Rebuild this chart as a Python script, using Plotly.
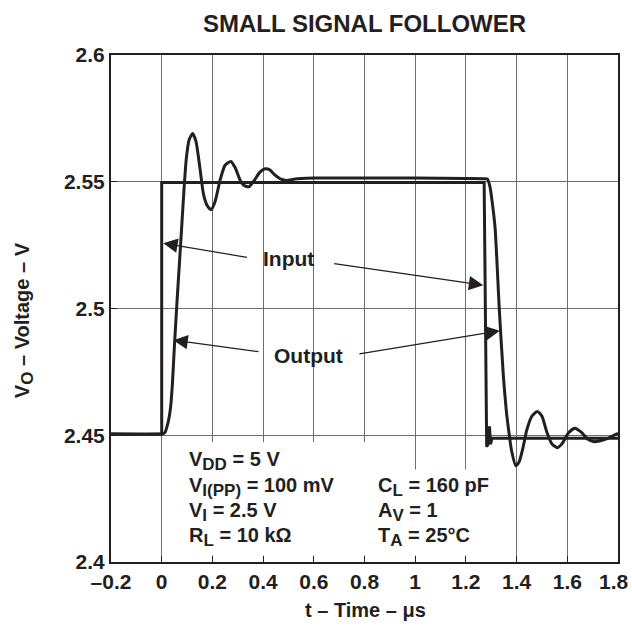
import plotly.graph_objects as go

# ---------------- data ----------------
x_tick_vals = [-0.2, 0, 0.2, 0.4, 0.6, 0.8, 1.0, 1.2, 1.4, 1.6, 1.8]
x_tick_text = ["–0.2", "0", "0.2", "0.4", "0.6", "0.8", "1", "1.2", "1.4", "1.6", "1.8"]
y_tick_vals = [2.4, 2.45, 2.5, 2.55, 2.6]
y_tick_text = ["2.4", "2.45", "2.5", "2.55", "2.6"]

t_input = [-0.2, 0.0, 0.0, 1.272, 1.282, 1.288, 1.293, 1.297, 1.303, 1.8]
v_input = [2.4505, 2.4505, 2.5497, 2.5497, 2.4455, 2.4465, 2.4535, 2.4465, 2.4488, 2.4488]

t_output = [-0.2, 0.0, 0.012, 0.025, 0.035, 0.042, 0.05, 0.06, 0.07, 0.08, 0.088, 0.097,
            0.108, 0.122, 0.135, 0.15, 0.165, 0.18, 0.195, 0.21, 0.23, 0.25, 0.273,
            0.29, 0.31, 0.325, 0.344, 0.365, 0.385, 0.405, 0.425, 0.445, 0.47, 0.493,
            0.52, 0.55, 0.6, 0.8, 1.0, 1.2, 1.275, 1.285, 1.295, 1.305, 1.315, 1.332,
            1.348, 1.36, 1.367, 1.38, 1.397, 1.41, 1.425, 1.44, 1.46, 1.482, 1.5, 1.52,
            1.54, 1.561, 1.58, 1.605, 1.63, 1.655, 1.68, 1.703, 1.73, 1.76, 1.78, 1.8]
v_output = [2.4505, 2.4505, 2.451, 2.455, 2.461, 2.47, 2.485, 2.502, 2.518, 2.534, 2.547, 2.559,
            2.5665, 2.569, 2.566, 2.556, 2.545, 2.5405, 2.539, 2.542, 2.5505, 2.5565, 2.558,
            2.5555, 2.5505, 2.5485, 2.548, 2.5505, 2.5535, 2.555, 2.5548, 2.5528, 2.551, 2.5505,
            2.551, 2.5513, 2.5515, 2.5515, 2.5515, 2.5513, 2.5512, 2.551, 2.548, 2.541, 2.532, 2.4993,
            2.473, 2.459, 2.4533, 2.444, 2.438, 2.4395, 2.445, 2.452, 2.4575, 2.4594, 2.4575, 2.451,
            2.4465, 2.4451, 2.4468, 2.451, 2.4528, 2.4512, 2.4485, 2.4475, 2.4478, 2.4488, 2.4498, 2.4508]

ink = "#231f20"
FONT = "Liberation Sans, Arial, sans-serif"


def sub(s, px):
    return '<sub><span style="font-size:%dpx">%s</span></sub>' % (px, s)


fig = go.Figure()

# white boxes behind the condition text (cover grid lines)
fig.add_shape(type="rect", xref="x", yref="y", x0=0.006, x1=0.84, y0=2.4026, y1=2.4472,
              fillcolor="white", line_width=0, layer="between")
fig.add_shape(type="rect", xref="x", yref="y", x0=0.84, x1=1.3, y0=2.4026, y1=2.4365,
              fillcolor="white", line_width=0, layer="between")

fig.add_trace(go.Scatter(x=t_input, y=v_input, mode="lines", name="Input",
                         line=dict(color=ink, width=3), showlegend=False))
fig.add_trace(go.Scatter(x=t_output, y=v_output, mode="lines", name="Output",
                         line=dict(color=ink, width=3, shape="spline", smoothing=0.6),
                         showlegend=False))

ann = []
# title and axis titles
ann.append(dict(text="SMALL SIGNAL FOLLOWER", xref="paper", yref="paper", x=0.5, y=1.063,
                xanchor="center", yanchor="middle", showarrow=False,
                font=dict(family=FONT, size=24, color=ink, weight="bold")))
ann.append(dict(text="t – Time – μs", xref="paper", yref="paper", x=0.502, y=-0.094,
                xanchor="center", yanchor="middle", showarrow=False,
                font=dict(family=FONT, size=20, color=ink, weight="bold")))
ann.append(dict(text="V" + sub("O", 17) + " – Voltage – V", xref="paper", yref="paper",
                x=-0.1716, y=0.477, xanchor="center", yanchor="middle", showarrow=False,
                textangle=-90, font=dict(family=FONT, size=20, color=ink, weight="bold")))

tick_font = dict(family=FONT, size=21, color=ink, weight="bold")
# last x tick label sits against the right edge of the figure
ann.append(dict(text=x_tick_text[-1], xref="paper", yref="paper", x=1.0, y=0.0,
                xanchor="right", yanchor="middle", xshift=13, yshift=-19,
                showarrow=False, font=tick_font))

# labels with arrows
lab_font = dict(family=FONT, size=21, color=ink, weight="bold")
ann.append(dict(text="Input", x=0.5, y=2.5199, xref="x", yref="y", showarrow=False, font=lab_font))
ann.append(dict(text="Output", x=0.581, y=2.4816, xref="x", yref="y", showarrow=False, font=lab_font))
arrows = [((0.006, 2.5257), (0.342, 2.5201)),
          ((1.2684, 2.5092), (0.6745, 2.5178)),
          ((0.046, 2.4875), (0.388, 2.4829)),
          ((1.334, 2.4912), (0.774, 2.482))]
for (tip, tail) in arrows:
    ann.append(dict(text="", x=tip[0], y=tip[1], ax=tail[0], ay=tail[1], xref="x", yref="y",
                    axref="x", ayref="y", showarrow=True, arrowhead=2, arrowsize=2.4,
                    arrowwidth=1.2, arrowcolor=ink))

# condition text
cond_font = dict(family=FONT, size=20, color=ink, weight="bold")
left_lines = ["V" + sub("DD", 17) + " = 5 V", "V" + sub("I(PP)", 17) + " = 100 mV",
              "V" + sub("I", 17) + " = 2.5 V", "R" + sub("L", 17) + " = 10 kΩ"]
right_lines = ["", "C" + sub("L", 17) + " = 160 pF", "A" + sub("V", 17) + " = 1",
               "T" + sub("A", 17) + " = 25°C"]
row_y = [2.4400, 2.4295, 2.4196, 2.4098]
for i, s in enumerate(left_lines):
    ann.append(dict(text=s, x=0.0986, y=row_y[i], xref="x", yref="y", xanchor="left",
                    yanchor="middle", showarrow=False, font=cond_font))
for i, s in enumerate(right_lines):
    if s:
        ann.append(dict(text=s, x=0.845, y=row_y[i], xref="x", yref="y", xanchor="left",
                        yanchor="middle", showarrow=False, font=cond_font))

fig.update_layout(
    width=632, height=626,
    margin=dict(l=111, r=14, t=55, b=64, autoexpand=False),
    plot_bgcolor="white", paper_bgcolor="white",
    annotations=ann,
    font=dict(family=FONT, color=ink),
)
fig.update_xaxes(range=[-0.2, 1.8], tickvals=x_tick_vals,
                 ticktext=x_tick_text[:-1] + [""],
                 showgrid=True, gridcolor="#6e6e6e", gridwidth=1, zeroline=False,
                 showline=True, linecolor=ink, linewidth=2, mirror=True,
                 ticks="inside", ticklen=6, tickcolor=ink, tickwidth=1,
                 ticklabeloverflow="allow", automargin=False, tickfont=tick_font)
fig.update_yaxes(range=[2.4, 2.6], tickvals=y_tick_vals, ticktext=y_tick_text,
                 showgrid=True, gridcolor="#6e6e6e", gridwidth=1, zeroline=False,
                 showline=True, linecolor=ink, linewidth=2, mirror=True,
                 ticks="inside", ticklen=6, tickcolor=ink, tickwidth=1,
                 ticklabeloverflow="allow", automargin=False, tickfont=tick_font)

fig.write_html("out.html", config={"displayModeBar": False},
               post_script="document.body.style.margin='0';document.body.style.overflow='hidden';")
